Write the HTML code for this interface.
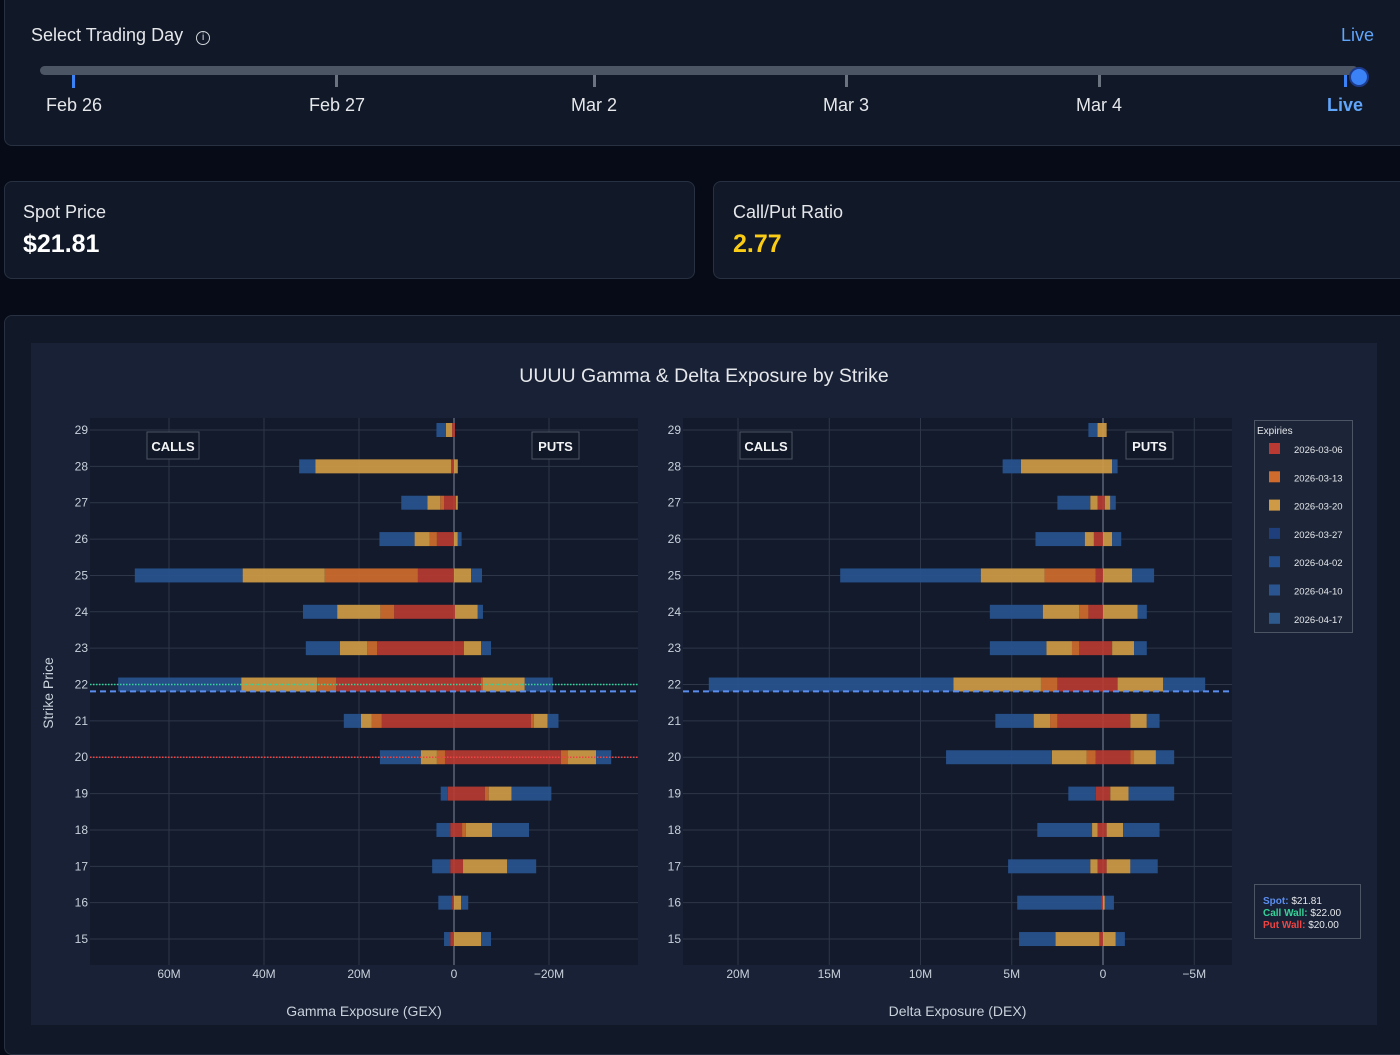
<!DOCTYPE html>
<html><head><meta charset="utf-8">
<style>
body{margin:0;width:1400px;height:1040px;background:#060b17;font-family:"Liberation Sans",sans-serif;overflow:hidden;position:relative;color:#e5e7eb}
.card{position:absolute;background:#111827;border:1px solid #283141;border-radius:8px;box-sizing:border-box}
.lbl{position:absolute;font-size:18px;color:#e5e7eb}
.tick{position:absolute;font-size:18px;color:#e5e7eb;transform:translateX(-50%)}
</style></head><body>
<div class="card" style="left:4px;top:-10px;width:1410px;height:156px">
</div>
<div class="lbl" style="left:31px;top:25px">Select Trading Day <span style="display:inline-block;width:12px;height:12px;border:1.5px solid #d1d5db;border-radius:50%;font-size:10px;text-align:center;line-height:12px;margin-left:8px;vertical-align:1px">i</span></div>
<div class="lbl" style="left:1341px;top:25px;color:#60a5fa">Live</div>
<div style="position:absolute;left:40px;top:66px;width:1318px;height:9px;border-radius:5px;background:#4b5563"></div>
<div style="position:absolute;left:1349px;top:67px;width:16px;height:16px;border-radius:50%;background:#3b82f6;border:2px solid #1e3a8a"></div>
<div style="position:absolute;left:72px;top:75px;width:3px;height:13px;background:#3b82f6"></div>
<div style="position:absolute;left:335px;top:75px;width:3px;height:12px;background:#6b7280"></div>
<div style="position:absolute;left:593px;top:75px;width:3px;height:12px;background:#6b7280"></div>
<div style="position:absolute;left:845px;top:75px;width:3px;height:12px;background:#6b7280"></div>
<div style="position:absolute;left:1098px;top:75px;width:3px;height:12px;background:#6b7280"></div>
<div style="position:absolute;left:1344px;top:75px;width:3px;height:12px;background:#3b82f6"></div>
<div class="tick" style="left:74px;top:95px">Feb 26</div>
<div class="tick" style="left:337px;top:95px">Feb 27</div>
<div class="tick" style="left:594px;top:95px">Mar 2</div>
<div class="tick" style="left:846px;top:95px">Mar 3</div>
<div class="tick" style="left:1099px;top:95px">Mar 4</div>
<div class="tick" style="left:1345px;top:95px;color:#60a5fa;font-weight:bold">Live</div>

<div class="card" style="left:4px;top:181px;width:691px;height:98px"></div>
<div class="lbl" style="left:23px;top:202px">Spot Price</div>
<div class="lbl" style="left:23px;top:230px;font-size:25px;font-weight:bold;color:#fff">$21.81</div>
<div class="card" style="left:713px;top:181px;width:700px;height:98px"></div>
<div class="lbl" style="left:733px;top:202px">Call/Put Ratio</div>
<div class="lbl" style="left:733px;top:230px;font-size:25px;font-weight:bold;color:#facc15">2.77</div>

<div class="card" style="left:4px;top:315px;width:1410px;height:740px"></div>
<svg id="chart" width="1400" height="1040" style="position:absolute;left:0;top:0" font-family="Liberation Sans, DejaVu Sans, sans-serif"></svg>

<script>
const strikes=[29,28,27,26,25,24,23,22,21,20,19,18,17,16,15];
const expiries=["2026-03-06","2026-03-13","2026-03-20","2026-03-27","2026-04-02","2026-04-10","2026-04-17"];
// GEX (millions): calls and puts per expiry group
const gexCallRed=[0.4,0.6,2.1,3.6,7.6,12.6,16.2,24.8,15.2,1.9,1.3,0.8,0.8,0.4,0.8];
const gexCallOrange=[0,0,0.8,1.5,19.6,2.9,2.1,4,2.1,1.7,0,0,0,0,0];
const gexCallYellow=[1.3,28.6,2.7,3.2,17.3,9.1,5.7,16,2.3,3.4,0,0,0,0,0];
const gexCallBlue=[2,3.4,5.5,7.4,22.7,7.2,7.2,25.9,3.6,8.6,1.5,2.9,3.8,2.9,1.3];
const gexPutRed=[0.2,0,0.4,0,0,0.2,2.1,5.7,16.2,22.5,6.5,1.7,1.9,0,0];
const gexPutOrange=[0,0,0,0,0,0,0,0.4,0.6,1.5,0.8,0.8,0,0,0];
const gexPutYellow=[0,0.8,0.4,0.8,3.6,4.8,3.6,8.8,2.9,5.9,4.8,5.5,9.3,1.5,5.7];
const gexPutBlue=[0,0,0,0.8,2.3,1.1,2.1,5.9,2.3,3.2,8.4,7.8,6.1,1.5,2.1];
// DEX (millions)
const dexCallRed=[0,0,0.3,0.5,0.4,0.8,1.3,2.5,2.5,0.4,0.4,0.3,0.3,0.1,0.2];
const dexCallOrange=[0,0,0,0,2.8,0.5,0.4,0.9,0.4,0.5,0,0,0,0,0];
const dexCallYellow=[0.3,4.5,0.4,0.5,3.5,2,1.4,4.8,0.9,1.9,0,0.3,0.4,0,2.4];
const dexCallBlue=[0.5,1,1.8,2.7,7.7,2.9,3.1,13.4,2.1,5.8,1.5,3,4.5,4.6,2];
const dexPutRed=[0,0,0.1,0,0,0,0.5,0.8,1.5,1.5,0.4,0.2,0.2,0,0];
const dexPutOrange=[0,0,0,0,0,0,0,0,0,0.2,0,0,0,0,0];
const dexPutYellow=[0.2,0.5,0.3,0.5,1.6,1.9,1.2,2.5,0.9,1.2,1,0.9,1.3,0.1,0.7];
const dexPutBlue=[0,0.3,0.3,0.5,1.2,0.5,0.7,2.3,0.7,1,2.5,2,1.5,0.5,0.5];
const gexTicks=[60,40,20,0,-20];
const gexTickLabels=["60M","40M","20M","0","\u221220M"];
const dexTicks=[20,15,10,5,0,-5];
const dexTickLabels=["20M","15M","10M","5M","0","\u22125M"];
const spot=21.81, callWall=22, putWall=20;

const svg=document.getElementById('chart');
const NS="http://www.w3.org/2000/svg";
function mk(tag,attrs,parent){const e=document.createElementNS(NS,tag);for(const k in attrs)e.setAttribute(k,attrs[k]);(parent||svg).appendChild(e);return e;}
function txt(x,y,s,attrs){const t=mk('text',Object.assign({x:x,y:y,fill:'#c9d1dc','font-size':12},attrs));t.textContent=s;return t;}
const colors={red:'#b83a32',orange:'#cf6b2c',yellow:'#cf9a45',blue:'#28528f'};
function yS(s){return 430+(29-s)*36.36;}

const paper=mk('rect',{x:31,y:343,width:1346,height:682,fill:'#182135'});


const title=txt(704,382,'UUUU Gamma & Delta Exposure by Strike',{'text-anchor':'middle','font-size':19.5,fill:'#e5e7eb'});



function panel(name,x0,x1,zero,pxPerM,ticks,labels,cr,co,cy,cb,pr,po,py,pb,xtitle,showWalls){
  const g=mk('g',{});
  
  
  mk('rect',{x:x0,y:418,width:x1-x0,height:547,fill:'#121a2b'},g);
  const xS=v=>zero-v*pxPerM;
  ticks.forEach((t,i)=>{
    mk('line',{x1:xS(t),x2:xS(t),y1:418,y2:965,stroke:'#2d3749','stroke-width':1},g);
    const tl=txt(xS(t),978,labels[i],{'text-anchor':'middle'});
    
    
  });
  strikes.forEach(s=>{
    mk('line',{x1:x0,x2:x1,y1:yS(s),y2:yS(s),stroke:'#2d3749','stroke-width':1},g);
    const tl=txt(x0-2,yS(s)+4,String(s),{'text-anchor':'end'});
    
    
  });
  mk('line',{x1:zero,x2:zero,y1:418,y2:965,stroke:'#5b6578','stroke-width':1.5},g);
  strikes.forEach((s,i)=>{
    let acc=0;
    [[cr,'red'],[co,'orange'],[cy,'yellow'],[cb,'blue']].forEach(([arr,c])=>{
      const v=arr[i]; if(!v)return;
      const r=mk('rect',{x:xS(acc+v),y:yS(s)-7,width:v*pxPerM,height:14,fill:colors[c],opacity:0.92},g);
      
      
      acc+=v;
    });
    acc=0;
    [[pr,'red'],[po,'orange'],[py,'yellow'],[pb,'blue']].forEach(([arr,c])=>{
      const v=arr[i]; if(!v)return;
      const r=mk('rect',{x:xS(-acc),y:yS(s)-7,width:v*pxPerM,height:14,fill:colors[c],opacity:0.92},g);
      
      
      acc+=v;
    });
  });
  if(showWalls){
    const cw=mk('line',{x1:x0,x2:x1,y1:yS(callWall),y2:yS(callWall),stroke:'#34d399','stroke-width':1.5,'stroke-dasharray':'1.5 1.5'},g);
    
    
    const pw=mk('line',{x1:x0,x2:x1,y1:yS(putWall),y2:yS(putWall),stroke:'#ef4444','stroke-width':1.5,'stroke-dasharray':'1.5 1.5'},g);
    
    
  }
  const sl=mk('line',{x1:x0,x2:x1,y1:yS(spot),y2:yS(spot),stroke:'#5b8def','stroke-width':2,'stroke-dasharray':'6 4'},g);
  
  
  [['CALLS',x0+57,52],['PUTS',x1-106,47]].forEach(([s,x,w])=>{
    mk('rect',{x:x,y:432,width:w,height:27,fill:'#111827',stroke:'#4b5563'},g);
    const a=txt(x+w/2,451,s,{'text-anchor':'middle','font-weight':'bold','font-size':13,fill:'#f3f4f6'});
    
    
  });
  const xt=txt((x0+x1)/2,1016,xtitle,{'text-anchor':'middle','font-size':14,fill:'#c9d1dc'});
  
  
}
panel('gex',90,638,454,4.75,gexTicks,gexTickLabels,gexCallRed,gexCallOrange,gexCallYellow,gexCallBlue,gexPutRed,gexPutOrange,gexPutYellow,gexPutBlue,'Gamma Exposure (GEX)',true);
panel('dex',683,1232,1103,18.25,dexTicks,dexTickLabels,dexCallRed,dexCallOrange,dexCallYellow,dexCallBlue,dexPutRed,dexPutOrange,dexPutYellow,dexPutBlue,'Delta Exposure (DEX)',false);

const yt=txt(53,693,'Strike Price',{'text-anchor':'middle','font-size':14,transform:'rotate(-90 53 693)'});



const legColors=['#b83a32','#cf6b2c','#cf9a45','#1f3f7c','#24508f','#2a5590','#2f5a8e'];
mk('rect',{x:1254.5,y:420.5,width:98,height:212,fill:'#1c2537',stroke:'#4b5563'});
const lt=txt(1257,434,'Expiries',{'font-size':10,fill:'#e5e7eb'});


expiries.forEach((e,i)=>{
  const y=449+i*28.3;
  mk('rect',{x:1269,y:y-6,width:11,height:11,fill:legColors[i]});
  const t=txt(1294,y+4,e,{'font-size':9.5,fill:'#e5e7eb'});
  
  
});
mk('rect',{x:1254.5,y:884.5,width:106,height:54,fill:'#182135',stroke:'#4b5563'});
[['Spot:','#5b8def','$21.81',904],['Call Wall:','#34d399','$22.00',916],['Put Wall:','#ef4444','$20.00',928]].forEach(([k,c,v,y])=>{
  const t=txt(1263,y,'',{'font-size':10,fill:'#e5e7eb'});
  
  
  const a=document.createElementNS(NS,'tspan');a.setAttribute('fill',c);a.setAttribute('font-weight','bold');a.textContent=k+' ';t.appendChild(a);
  const b=document.createElementNS(NS,'tspan');b.textContent=v;t.appendChild(b);
});
</script>
</body></html>
